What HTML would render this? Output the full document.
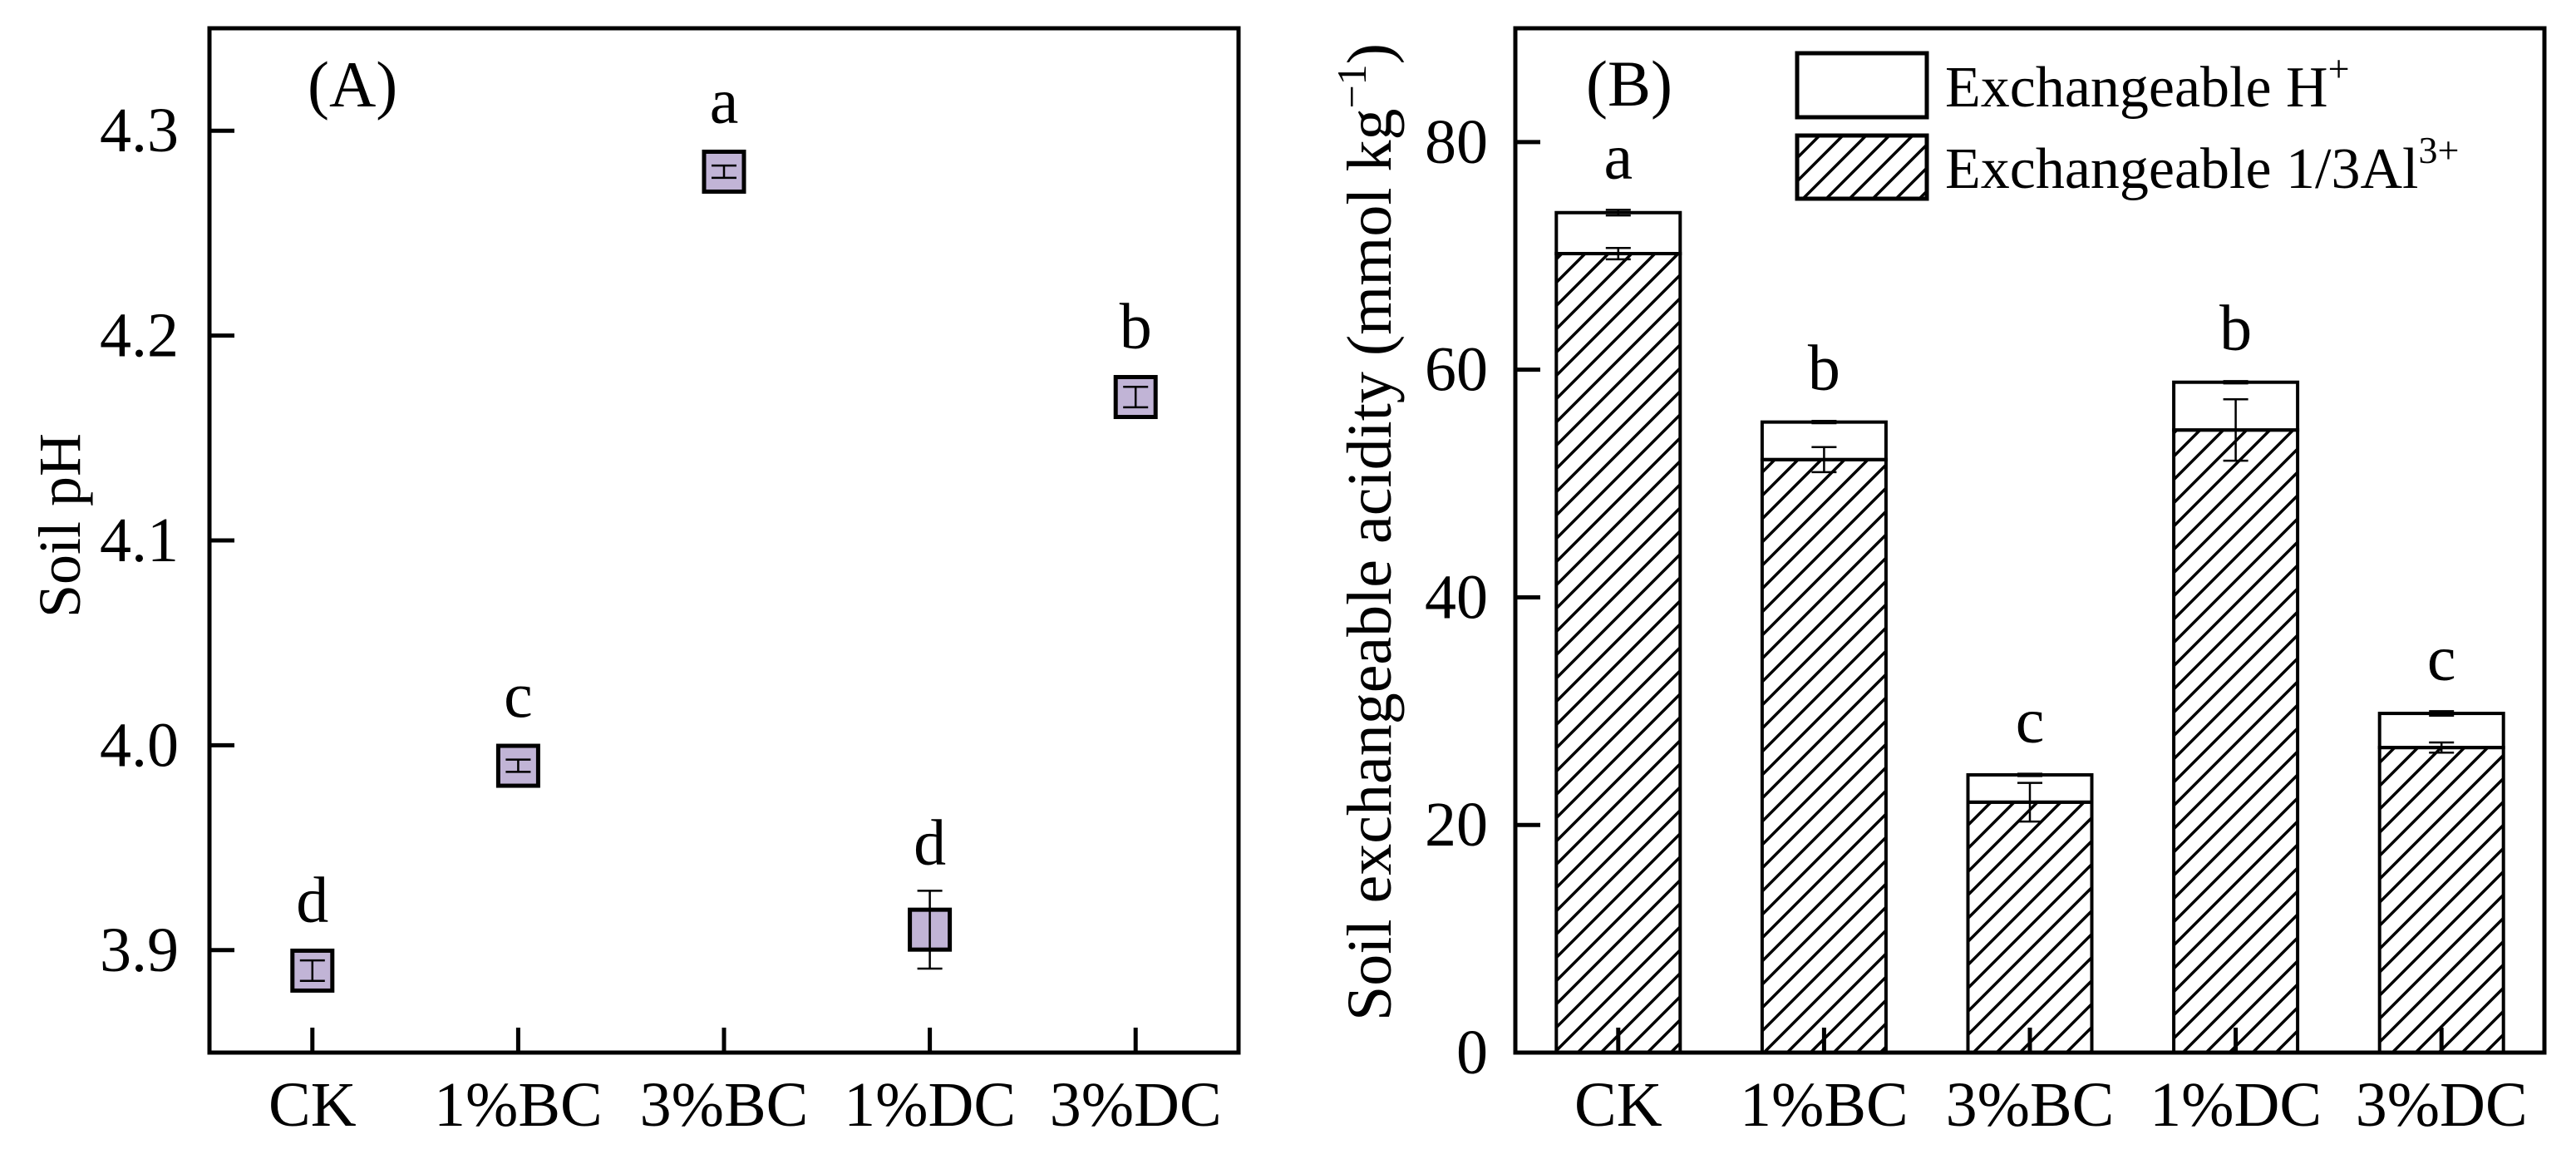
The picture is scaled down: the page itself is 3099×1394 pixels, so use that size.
<!DOCTYPE html>
<html><head><meta charset="utf-8"><style>
html,body{margin:0;padding:0;background:#fff;}
svg{display:block;font-family:"Liberation Serif",serif;}
</style></head><body>
<svg id="fig" width="3099" height="1394" viewBox="0 0 3099 1394" xmlns="http://www.w3.org/2000/svg">
<defs>
<pattern id="hatch" patternUnits="userSpaceOnUse" width="28" height="28">
<path d="M-7,7 L7,-7 M0,28 L28,0 M21,35 L35,21" stroke="#000" stroke-width="3.5"/>
</pattern>
</defs>
<g id="panelA"></g>
<g id="panelB"></g>
</svg>
<script>
const categories = ["CK","1%BC","3%BC","1%DC","3%DC"];
const phValues = [3.89, 3.99, 4.28, 3.91, 4.17];
const phErrors = [0.005, 0.003, 0.003, 0.019, 0.005];
const phLetters = ["d","c","a","d","b"];
const phTicks = [3.9, 4.0, 4.1, 4.2, 4.3];
const phTickLabels = ["3.9","4.0","4.1","4.2","4.3"];
const alValues = [70.2, 52.1, 22.0, 54.7, 26.8];
const alErrors = [0.5, 1.1, 1.7, 2.7, 0.45];
const totalValues = [73.8, 55.4, 24.4, 58.9, 29.8];
const totalErrors = [0.25, 0.1, 0.1, 0.1, 0.2];
const acidLetters = ["a","b","c","b","c"];
const acidTicks = [0, 20, 40, 60, 80];
const acidTickLabels = ["0","20","40","60","80"];

const NS = "http://www.w3.org/2000/svg";
function mk(parent, tag, attrs, text) {
  const e = document.createElementNS(NS, tag);
  for (const k in attrs) e.setAttribute(k, attrs[k]);
  if (text !== undefined) e.textContent = text;
  parent.appendChild(e);
  return e;
}
const TOP = 34, BOT = 1266;

function xScale(left, right) { return i => left + (right - left) * (i + 0.5) / categories.length; }

// ---------- Panel A ----------
(function(){
  const g = document.getElementById('panelA');
  const L = 252, R = 1490;
  const x = xScale(L, R);
  const yMin = 3.85, yMax = 4.35;
  const y = v => BOT - (v - yMin) / (yMax - yMin) * (BOT - TOP);
  const frame = mk(g, 'rect', {x:L, y:TOP, width:R-L, height:BOT-TOP, fill:'none', stroke:'#000', 'stroke-width':5});
  
  
  phTicks.forEach((t, i) => {
    const tk = mk(g, 'line', {x1:L, x2:L+30, y1:y(t), y2:y(t), stroke:'#000', 'stroke-width':5});
    
    
    const tl = mk(g, 'text', {x:L-37, y:y(t)+25, 'text-anchor':'end', 'font-size':76}, phTickLabels[i]);
    
    
  });
  categories.forEach((c, i) => {
    const cx = x(i);
    const tk = mk(g, 'line', {x1:cx, x2:cx, y1:BOT-30, y2:BOT, stroke:'#000', 'stroke-width':5});
    
    
    const tl = mk(g, 'text', {x:cx, y:1354, 'text-anchor':'middle', 'font-size':76}, c);
    
    
    const cy = y(phValues[i]);
    const sq = mk(g, 'rect', {x:cx-24, y:cy-24, width:48, height:48, fill:'#c1b4d6', stroke:'#000', 'stroke-width':5});
    
    
    const hi = y(phValues[i] + phErrors[i]), lo = y(phValues[i] - phErrors[i]);
    const eb = mk(g, 'path', {d:`M${cx},${hi} L${cx},${lo} M${cx-15},${hi} L${cx+15},${hi} M${cx-15},${lo} L${cx+15},${lo}`, stroke:'#000', 'stroke-width':2.5, fill:'none'});
    
    
    const topY = Math.min(cy - 27, hi);
    const lt = mk(g, 'text', {x:cx, y:topY-32, 'text-anchor':'middle', 'font-size':78}, phLetters[i]);
    
    
  });
  const pl = mk(g, 'text', {x:370, y:128, 'font-size':78}, '(A)');
  
  
  const yt = mk(g, 'text', {x:0, y:0, 'text-anchor':'middle', 'font-size':72, transform:'translate(96,632) rotate(-90)'}, 'Soil pH');
  
  
})();

// ---------- Panel B ----------
(function(){
  const g = document.getElementById('panelB');
  const L = 1823, R = 3061;
  const x = xScale(L, R);
  const yMin = 0, yMax = 90;
  const y = v => BOT - (v - yMin) / (yMax - yMin) * (BOT - TOP);
  const bw = 149;
  categories.forEach((c, i) => {
    const cx = x(i);
    const hb = mk(g, 'rect', {x:cx-bw/2, y:y(totalValues[i]), width:bw, height:y(alValues[i])-y(totalValues[i]), fill:'#fff', stroke:'#000', 'stroke-width':4});
    
    
    const ab = mk(g, 'rect', {x:cx-bw/2, y:y(alValues[i]), width:bw, height:BOT-y(alValues[i]), fill:'url(#hatch)', stroke:'#000', 'stroke-width':4});
    
    
    [[alValues[i], alErrors[i]], [totalValues[i], totalErrors[i]]].forEach(([v, e]) => {
      const hi = y(v + e), lo = y(v - e);
      const eb = mk(g, 'path', {d:`M${cx},${hi} L${cx},${lo} M${cx-15},${hi} L${cx+15},${hi} M${cx-15},${lo} L${cx+15},${lo}`, stroke:'#000', 'stroke-width':2.5, fill:'none'});
      
      
    });
    const lt = mk(g, 'text', {x:cx, y:y(totalValues[i]+totalErrors[i])-38, 'text-anchor':'middle', 'font-size':78}, acidLetters[i]);
    
    
    const tk = mk(g, 'line', {x1:cx, x2:cx, y1:BOT-30, y2:BOT, stroke:'#000', 'stroke-width':5});
    
    
    const tl = mk(g, 'text', {x:cx, y:1354, 'text-anchor':'middle', 'font-size':76}, c);
    
    
  });
  const frame = mk(g, 'rect', {x:L, y:TOP, width:R-L, height:BOT-TOP, fill:'none', stroke:'#000', 'stroke-width':5});
  
  
  acidTicks.forEach((t, i) => {
    const tk = mk(g, 'line', {x1:L, x2:L+30, y1:y(t), y2:y(t), stroke:'#000', 'stroke-width':5});
    
    
    const tl = mk(g, 'text', {x:L-33, y:y(t)+25, 'text-anchor':'end', 'font-size':76}, acidTickLabels[i]);
    
    
  });
  const pl = mk(g, 'text', {x:1908, y:127, 'font-size':78}, '(B)');
  
  
  // legend
  const lg = mk(g, 'g', {});
  
  
  const b1 = mk(lg, 'rect', {x:2162, y:64, width:156, height:77, fill:'#fff', stroke:'#000', 'stroke-width':5});
  
  
  const t1 = mk(lg, 'text', {x:2340, y:128, 'font-size':70});
  
  
  t1.appendChild(document.createTextNode('Exchangeable H'));
  mk(t1, 'tspan', {dy:-30, 'font-size':46}, '+');
  const b2 = mk(lg, 'rect', {x:2162, y:163, width:156, height:76, fill:'url(#hatch)', stroke:'#000', 'stroke-width':5});
  
  
  const t2 = mk(lg, 'text', {x:2340, y:226, 'font-size':70});
  
  
  t2.appendChild(document.createTextNode('Exchangeable 1/3Al'));
  mk(t2, 'tspan', {dy:-30, 'font-size':46}, '3+');
  // y title
  const yt = mk(g, 'text', {x:0, y:0, 'text-anchor':'middle', 'font-size':76, transform:'translate(1673,640) rotate(-90)'});
  
  
  yt.appendChild(document.createTextNode('Soil exchangeable acidity (mmol kg'));
  mk(yt, 'tspan', {dy:-30, 'font-size':50}, '\u22121');
  mk(yt, 'tspan', {dy:30}, ')');
})();
</script>
</body></html>
